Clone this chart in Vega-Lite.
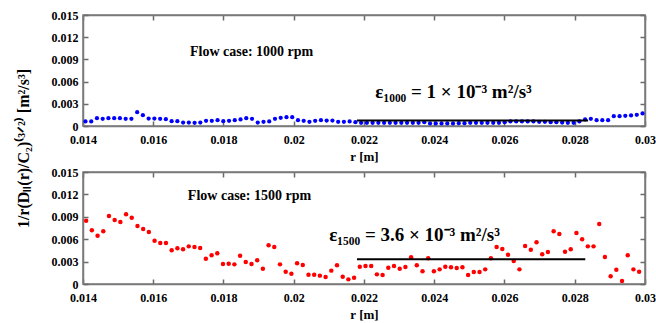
{
  "$schema": "https://vega.github.io/schema/vega-lite/v6.json",
  "background": "white",
  "padding": {"left": 14, "top": 8, "right": 5, "bottom": 0},
  "bounds": "flush",
  "spacing": 46,
  "datasets": {
    "top": [
      {"r":0.014070,"v":0.00061},{"r":0.014234,"v":0.00061},{"r":0.014397,"v":0.00106},{"r":0.014561,"v":0.00097},{"r":0.014724,"v":0.00106},
      {"r":0.014888,"v":0.00106},{"r":0.015051,"v":0.00106},{"r":0.015215,"v":0.00097},{"r":0.015378,"v":0.00097},{"r":0.015542,"v":0.00187},
      {"r":0.015705,"v":0.00146},{"r":0.015869,"v":0.00101},{"r":0.016032,"v":0.00101},{"r":0.016196,"v":0.00097},{"r":0.016359,"v":0.00092},
      {"r":0.016523,"v":0.00065},{"r":0.016686,"v":0.00065},{"r":0.016850,"v":0.00047},{"r":0.017013,"v":0.00047},{"r":0.017177,"v":0.00043},
      {"r":0.017340,"v":0.00047},{"r":0.017504,"v":0.00070},{"r":0.017667,"v":0.00070},{"r":0.017831,"v":0.00079},{"r":0.017994,"v":0.00065},
      {"r":0.018158,"v":0.00070},{"r":0.018321,"v":0.00079},{"r":0.018485,"v":0.00088},{"r":0.018648,"v":0.00106},{"r":0.018812,"v":0.00097},
      {"r":0.018975,"v":0.00047},{"r":0.019139,"v":0.00056},{"r":0.019302,"v":0.00061},{"r":0.019466,"v":0.00097},{"r":0.019629,"v":0.00110},
      {"r":0.019793,"v":0.00119},{"r":0.019956,"v":0.00119},{"r":0.020120,"v":0.00079},{"r":0.020283,"v":0.00070},{"r":0.020447,"v":0.00056},
      {"r":0.020610,"v":0.00070},{"r":0.020774,"v":0.00079},{"r":0.020937,"v":0.00074},{"r":0.021101,"v":0.00074},{"r":0.021264,"v":0.00056},
      {"r":0.021428,"v":0.00056},{"r":0.021591,"v":0.00061},{"r":0.021755,"v":0.00052},{"r":0.021918,"v":0.00043},{"r":0.022082,"v":0.00043},
      {"r":0.022245,"v":0.00043},{"r":0.022409,"v":0.00043},{"r":0.022572,"v":0.00043},{"r":0.022736,"v":0.00043},{"r":0.022899,"v":0.00043},
      {"r":0.023063,"v":0.00043},{"r":0.023226,"v":0.00043},{"r":0.023390,"v":0.00043},{"r":0.023553,"v":0.00043},{"r":0.023717,"v":0.00052},
      {"r":0.023880,"v":0.00034},{"r":0.024044,"v":0.00034},{"r":0.024207,"v":0.00034},{"r":0.024371,"v":0.00034},{"r":0.024534,"v":0.00034},
      {"r":0.024698,"v":0.00038},{"r":0.024861,"v":0.00038},{"r":0.025025,"v":0.00043},{"r":0.025188,"v":0.00043},{"r":0.025352,"v":0.00043},
      {"r":0.025515,"v":0.00043},{"r":0.025679,"v":0.00043},{"r":0.025842,"v":0.00043},{"r":0.026006,"v":0.00052},{"r":0.026169,"v":0.00061},
      {"r":0.026333,"v":0.00061},{"r":0.026496,"v":0.00061},{"r":0.026660,"v":0.00061},{"r":0.026823,"v":0.00061},{"r":0.026987,"v":0.00056},
      {"r":0.027150,"v":0.00056},{"r":0.027314,"v":0.00052},{"r":0.027477,"v":0.00052},{"r":0.027641,"v":0.00047},{"r":0.027804,"v":0.00043},
      {"r":0.027968,"v":0.00043},{"r":0.028131,"v":0.00061},{"r":0.028295,"v":0.00088},{"r":0.028458,"v":0.00097},{"r":0.028622,"v":0.00079},
      {"r":0.028785,"v":0.00079},{"r":0.028949,"v":0.00079},{"r":0.029112,"v":0.00133},{"r":0.029276,"v":0.00133},{"r":0.029439,"v":0.00137},
      {"r":0.029603,"v":0.00142},{"r":0.029766,"v":0.00151},{"r":0.029930,"v":0.00169}
    ],
    "bottom": [
      {"r":0.014090,"v":0.00848},{"r":0.014252,"v":0.00719},{"r":0.014415,"v":0.00647},{"r":0.014577,"v":0.00705},{"r":0.014739,"v":0.00911},
      {"r":0.014902,"v":0.00857},{"r":0.015064,"v":0.00830},{"r":0.015226,"v":0.00933},{"r":0.015388,"v":0.00888},{"r":0.015551,"v":0.00777},
      {"r":0.015713,"v":0.00737},{"r":0.015875,"v":0.00696},{"r":0.016038,"v":0.00580},{"r":0.016200,"v":0.00549},{"r":0.016362,"v":0.00549},
      {"r":0.016525,"v":0.00451},{"r":0.016687,"v":0.00478},{"r":0.016849,"v":0.00464},{"r":0.017011,"v":0.00504},{"r":0.017174,"v":0.00495},
      {"r":0.017336,"v":0.00482},{"r":0.017498,"v":0.00339},{"r":0.017661,"v":0.00384},{"r":0.017823,"v":0.00411},{"r":0.017985,"v":0.00268},
      {"r":0.018148,"v":0.00272},{"r":0.018310,"v":0.00263},{"r":0.018472,"v":0.00379},{"r":0.018634,"v":0.00295},{"r":0.018797,"v":0.00268},
      {"r":0.018959,"v":0.00317},{"r":0.019121,"v":0.00205},{"r":0.019284,"v":0.00518},{"r":0.019446,"v":0.00495},{"r":0.019608,"v":0.00263},
      {"r":0.019771,"v":0.00165},{"r":0.019933,"v":0.00138},{"r":0.020095,"v":0.00277},{"r":0.020257,"v":0.00254},{"r":0.020420,"v":0.00125},
      {"r":0.020582,"v":0.00125},{"r":0.020744,"v":0.00112},{"r":0.020907,"v":0.00094},{"r":0.021069,"v":0.00179},{"r":0.021231,"v":0.00250},
      {"r":0.021394,"v":0.00098},{"r":0.021556,"v":0.00062},{"r":0.021718,"v":0.00085},{"r":0.021880,"v":0.00232},{"r":0.022043,"v":0.00241},
      {"r":0.022205,"v":0.00241},{"r":0.022367,"v":0.00129},{"r":0.022530,"v":0.00121},{"r":0.022692,"v":0.00219},{"r":0.022854,"v":0.00241},
      {"r":0.023017,"v":0.00205},{"r":0.023179,"v":0.00228},{"r":0.023341,"v":0.00357},{"r":0.023503,"v":0.00250},{"r":0.023666,"v":0.00170},
      {"r":0.023828,"v":0.00344},{"r":0.023990,"v":0.00170},{"r":0.024153,"v":0.00196},{"r":0.024315,"v":0.00232},{"r":0.024477,"v":0.00223},
      {"r":0.024640,"v":0.00214},{"r":0.024802,"v":0.00223},{"r":0.024964,"v":0.00121},{"r":0.025126,"v":0.00161},{"r":0.025289,"v":0.00161},
      {"r":0.025451,"v":0.00196},{"r":0.025613,"v":0.00344},{"r":0.025776,"v":0.00496},{"r":0.025938,"v":0.00469},{"r":0.026100,"v":0.00393},
      {"r":0.026263,"v":0.00308},{"r":0.026425,"v":0.00196},{"r":0.026587,"v":0.00509},{"r":0.026749,"v":0.00460},{"r":0.026912,"v":0.00558},
      {"r":0.027074,"v":0.00397},{"r":0.027236,"v":0.00429},{"r":0.027399,"v":0.00705},{"r":0.027561,"v":0.00670},{"r":0.027723,"v":0.00433},
      {"r":0.027886,"v":0.00464},{"r":0.028048,"v":0.00683},{"r":0.028210,"v":0.00598},{"r":0.028372,"v":0.00504},{"r":0.028535,"v":0.00504},
      {"r":0.028697,"v":0.00804},{"r":0.028859,"v":0.00362},{"r":0.029022,"v":0.00103},{"r":0.029184,"v":0.00192},{"r":0.029346,"v":0.00040},
      {"r":0.029509,"v":0.00384},{"r":0.029671,"v":0.00196},{"r":0.029833,"v":0.00165}
    ],
    "seg1": [{"r":0.0218,"v":0.00075},{"r":0.02838,"v":0.00075}],
    "seg2": [{"r":0.0218,"v":0.0033},{"r":0.0283,"v":0.0033}],
    "lab1": [
      {"r":0.0188,"v":0.0100,"label":"Flow case: 1000 rpm","kind":"case"},
      {"r":0.02455,"v":0.00453,"label":"ε₁₀₀₀ = 1 × 10⁻³  m²/s³","kind":"eps"}
    ],
    "lab2": [
      {"r":0.01874,"v":0.0118,"label":"Flow case: 1500 rpm","kind":"case"},
      {"r":0.02344,"v":0.00659,"label":"ε₁₅₀₀ = 3.6 × 10⁻³  m²/s³","kind":"eps"}
    ]
  },
  "vconcat": [
    {
      "width": 562,
      "height": 111,
      "layer": [
        {
          "data": {"name": "top"},
          "mark": {"type": "circle", "color": "#0000ff", "size": 18, "opacity": 1},
          "encoding": {
            "x": {"field": "r", "type": "quantitative", "scale": {"domain": [0.014, 0.03], "nice": false},
                  "axis": {"orient": "bottom", "values": [0.014,0.016,0.018,0.02,0.022,0.024,0.026,0.028,0.03], "format": ".3~f", "title": "r [m]", "labelPadding": 13, "titlePadding": 5}},
            "y": {"field": "v", "type": "quantitative", "scale": {"domain": [0, 0.015], "nice": false},
                  "axis": {"orient": "left", "values": [0,0.003,0.006,0.009,0.012,0.015], "format": ".3~f", "labelPadding": 10,
                           "title": "1/r(Dₗₗ(r)/C₂)⁽³ᐟ²⁾ [m²/s³]", "titleX": -52, "titleY": 133, "titleFontSize": 16}}
          }
        },
        {
          "data": {"name": "seg1"},
          "mark": {"type": "line", "color": "black", "strokeWidth": 2},
          "encoding": {
            "x": {"field": "r", "type": "quantitative", "axis": {"orient": "top", "labels": false, "title": null, "values": [0.014,0.016,0.018,0.02,0.022,0.024,0.026,0.028,0.03]}},
            "y": {"field": "v", "type": "quantitative", "axis": {"orient": "right", "labels": false, "title": null, "values": [0,0.003,0.006,0.009,0.012,0.015]}}
          }
        },
        {
          "data": {"name": "lab1"},
          "mark": {"type": "text", "fontWeight": "bold", "align": "center", "baseline": "middle", "color": "black"},
          "encoding": {
            "x": {"field": "r", "type": "quantitative", "axis": null},
            "y": {"field": "v", "type": "quantitative", "axis": null},
            "text": {"field": "label"},
            "size": {"field": "kind", "type": "nominal", "scale": {"domain": ["case", "eps"], "range": [14, 19]}, "legend": null}
          }
        }
      ]
    },
    {
      "width": 562,
      "height": 112,
      "layer": [
        {
          "data": {"name": "bottom"},
          "mark": {"type": "circle", "color": "#ff0000", "size": 20, "opacity": 1},
          "encoding": {
            "x": {"field": "r", "type": "quantitative", "scale": {"domain": [0.014, 0.03], "nice": false},
                  "axis": {"orient": "bottom", "values": [0.014,0.016,0.018,0.02,0.022,0.024,0.026,0.028,0.03], "format": ".3~f", "title": "r [m]", "labelPadding": 13, "titlePadding": 5}},
            "y": {"field": "v", "type": "quantitative", "scale": {"domain": [0, 0.015], "nice": false},
                  "axis": {"orient": "left", "values": [0,0.003,0.006,0.009,0.012,0.015], "format": ".3~f", "labelPadding": 10, "title": null}}
          }
        },
        {
          "data": {"name": "seg2"},
          "mark": {"type": "line", "color": "black", "strokeWidth": 2},
          "encoding": {
            "x": {"field": "r", "type": "quantitative", "axis": {"orient": "top", "labels": false, "title": null, "values": [0.014,0.016,0.018,0.02,0.022,0.024,0.026,0.028,0.03]}},
            "y": {"field": "v", "type": "quantitative", "axis": {"orient": "right", "labels": false, "title": null, "values": [0,0.003,0.006,0.009,0.012,0.015]}}
          }
        },
        {
          "data": {"name": "lab2"},
          "mark": {"type": "text", "fontWeight": "bold", "align": "center", "baseline": "middle", "color": "black"},
          "encoding": {
            "x": {"field": "r", "type": "quantitative", "axis": null},
            "y": {"field": "v", "type": "quantitative", "axis": null},
            "text": {"field": "label"},
            "size": {"field": "kind", "type": "nominal", "scale": {"domain": ["case", "eps"], "range": [14, 19]}, "legend": null}
          }
        }
      ]
    }
  ],
  "config": {
    "view": {"stroke": "#7a7a7a", "strokeWidth": 1.5},
    "font": "Liberation Serif",
    "axis": {
      "grid": false, "domain": true, "domainColor": "#7a7a7a", "domainWidth": 1.5,
      "ticks": true, "tickSize": -5, "tickColor": "#6a6a6a", "tickWidth": 1.5, "tickOpacity": 1,
      "labelFlush": false,
      "labelFont": "Liberation Serif", "labelFontWeight": "bold", "labelFontSize": 12, "labelColor": "black",
      "titleFont": "Liberation Serif", "titleFontWeight": "bold", "titleFontSize": 13, "titleColor": "black"
    },
    "text": {"font": "Liberation Serif"}
  }
}
